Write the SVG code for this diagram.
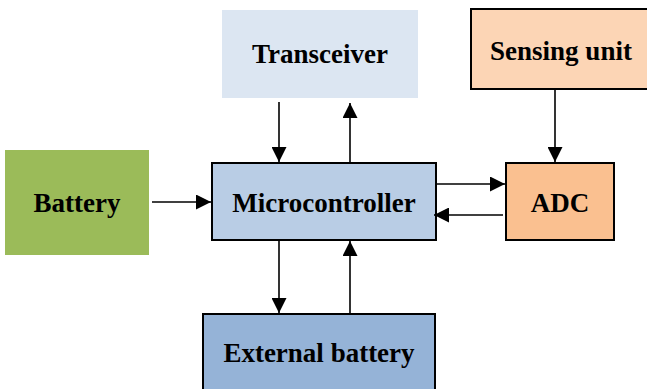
<svg xmlns="http://www.w3.org/2000/svg" width="647" height="389" viewBox="0 0 647 389">
<style>
.lbl{font-family:"Liberation Serif","Times New Roman",serif;font-weight:bold;font-size:27px;fill:#000;text-anchor:middle}
.box{stroke:#000;stroke-width:2}
.con{stroke:#000;stroke-width:1.6;fill:none}
</style>
<defs>
<marker id="ah" markerWidth="15" markerHeight="15" refX="15" refY="7.5" orient="auto" markerUnits="userSpaceOnUse">
<path d="M0,0 L15,7.5 L0,15 Z" fill="#000"/>
</marker>
</defs>
<rect width="647" height="389" fill="#fff"/>
<g id="transceiver">
<rect x="222" y="10" width="196" height="88" fill="#dce6f2"/>
<text class="lbl" x="320" y="63">Transceiver</text>
</g>
<g id="sensing-unit">
<rect class="box" x="471" y="9" width="182" height="80" fill="#fcd5b5"/>
<text class="lbl" x="561" y="60">Sensing unit</text>
</g>
<g id="battery">
<rect x="5" y="150" width="144" height="105" fill="#9bbb59"/>
<text class="lbl" x="77" y="212">Battery</text>
</g>
<g id="microcontroller">
<rect class="box" x="212" y="163" width="224" height="77" fill="#b9cde5"/>
<text class="lbl" x="324" y="212">Microcontroller</text>
</g>
<g id="adc">
<rect class="box" x="506" y="163" width="108" height="77" fill="#fac090"/>
<text class="lbl" x="560" y="212">ADC</text>
</g>
<g id="external-battery">
<rect class="box" x="203" y="314" width="232" height="80" fill="#95b3d7"/>
<text class="lbl" x="319" y="362">External battery</text>
</g>
<g id="connectors">
<line class="con" x1="279" y1="102" x2="279" y2="162" marker-end="url(#ah)"/>
<line class="con" x1="350" y1="162" x2="350" y2="103" marker-end="url(#ah)"/>
<line class="con" x1="555" y1="89" x2="555" y2="162" marker-end="url(#ah)"/>
<line class="con" x1="152" y1="202" x2="211" y2="202" marker-end="url(#ah)"/>
<line class="con" x1="437" y1="184" x2="505" y2="184" marker-end="url(#ah)"/>
<line class="con" x1="503" y1="215" x2="434" y2="215" marker-end="url(#ah)"/>
<line class="con" x1="279" y1="241" x2="279" y2="313" marker-end="url(#ah)"/>
<line class="con" x1="350" y1="313" x2="350" y2="241" marker-end="url(#ah)"/>
</g>
</svg>
